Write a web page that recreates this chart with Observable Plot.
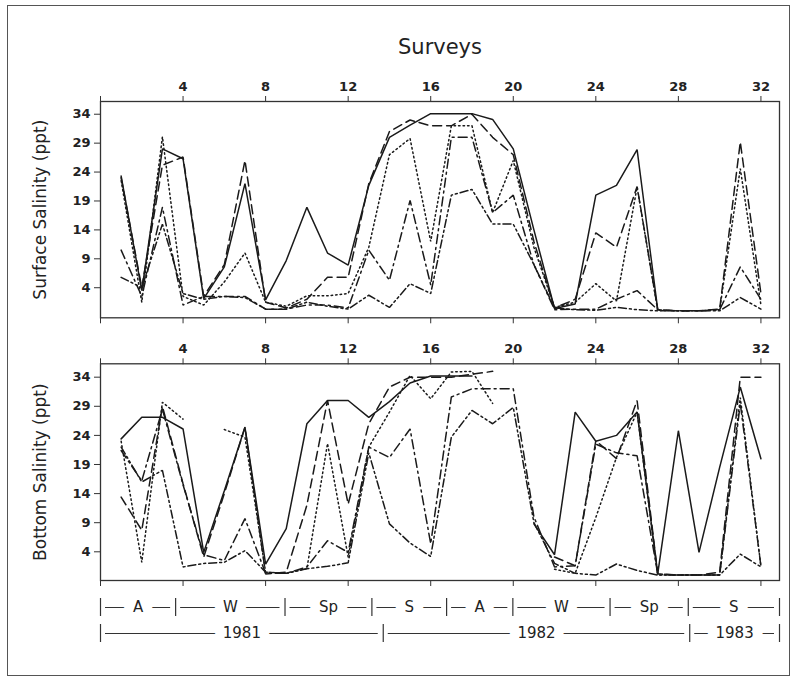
<!DOCTYPE html>
<html><head><meta charset="utf-8">
<script src="https://cdn.jsdelivr.net/npm/d3@7"></script>
<script src="https://cdn.jsdelivr.net/npm/@observablehq/plot@0.6"></script>
<style>
html,body{margin:0;padding:0;background:#fff;}
body{width:799px;height:680px;position:relative;overflow:hidden;font-family:"DejaVu Sans",sans-serif;color:#222;}
#border{position:absolute;left:7px;top:5px;width:783px;height:671px;border:1.5px solid #555;box-sizing:border-box;}
#title{position:absolute;left:0;width:880px;top:34px;text-align:center;font-size:21px;line-height:26px;color:#222;}
.panel{position:absolute;left:0;}
.panel svg{overflow:visible;}
g[aria-label="x-axis tick label"] text, g[aria-label="y-axis tick label"] text{font-weight:bold;}
g[aria-label="y-axis label"] text{font-size:17px;font-weight:normal;}
</style>
</head><body>
<div id="border"></div>
<div id="title">Surveys</div>
<div id="top" class="panel" style="top:60px"></div>
<div id="bottom" class="panel" style="top:340px"></div>
<div id="row1" class="panel" style="top:594px"></div>
<div id="row2" class="panel" style="top:620px"></div>
<script>
// ---- data ----
const surveys = [1,2,3,4,5,6,7,8,9,10,11,12,13,14,15,16,17,18,19,20,21,22,23,24,25,26,27,28,29,30,31,32];
const xTicks = [0,4,8,12,16,20,24,28,32];
const yTicks = [4,9,14,19,24,29,34];

const topSolid      = [23.3,3.5,28,26.3,2.1,7.6,22,1.9,8.7,17.9,10,7.9,21.7,30,32.1,34.1,34.1,34.1,33.1,28,14,0.4,1.2,20,21.7,27.9,0.2,null,null,null,null,null];
const topDash       = [23,4,25.2,26.6,2.5,8,26,1.5,0.5,2,5.8,5.8,22,31,33,32,32,34,30,27,12,0.5,2,13.5,11,21.5,0.2,0,0,0.3,29.2,3];
const topDot        = [22.5,1.5,30.1,2.5,1,5,10,1.5,0.8,2.6,2.6,3,11,27,29.8,12,32,32,17,26,11,0.6,1.5,4.7,1.7,21.4,0.1,0,0,0.2,24.6,1];
const topDashDot    = [10.5,2.5,17.9,1,2.5,2.5,2.5,0.3,0.3,1,1,0.5,10.5,5.3,19.1,4.5,30,30,17,20,8,0.2,0.3,0.3,2,3.5,0.2,0,0,0.2,7.6,2];
const topDashDotDot = [5.8,4,15,3,2,2.5,2.3,0.3,0.3,1.5,0.8,0.3,2.7,0.6,4.7,3,20,21,15,15,8,0.5,0.2,0.1,0.6,0.2,0,0,0,0,2.3,0.3];

const botSolid      = [23.4,27.1,27.1,25.1,3.9,14.5,25.4,1.9,8,26,30,30,27.1,29.8,33,34.2,34.2,34.2,null,null,8.8,3.5,28,23,24,28,0.2,24.8,3.9,18.5,32.3,20];
const botDash       = [13.4,7.7,29,15.7,3.1,14,25.4,0.2,0.5,12,30,12.2,26,32.3,34,34,34,34.5,35,null,null,3.1,1.6,23.1,20,30,0.2,0,0,0.5,34,34];
const botDot        = [23,2.2,29.7,26.8,null,25,23.7,0.5,0.3,1.1,22.6,3.1,22,28,34.3,30.3,34.9,35,29.5,null,null,1,0.3,9.9,20.2,28,0,0,0,0,30.5,1.5];
const botDashDot    = [21.4,16.2,28.5,15.5,3.5,2.5,9.7,0.3,0.3,1.4,5.9,3.9,22,20.2,25.1,5.4,30.6,32,32,32,10,1.4,1.6,22.5,21,20.5,0.2,0,0,0,29.5,1.5];
const botDashDotDot = [22,16,18,1.4,2,2.2,4.2,0.5,0.3,1.1,1.5,2.1,21,8.8,5.5,3.2,23.7,28.3,26,28.8,9,2,0.3,0,1.9,0.8,0,0,0,0,3.6,1.4];

const seasonLabels = ["A","W","Sp","S","A","W","Sp","S"];
const seasonBounds = [0,3.64,8.94,13.15,16.77,19.98,24.69,28.48,32.9];
const yearLabels = ["1981","1982","1983"];
const yearBounds = [0,13.7,28.55,32.9];

// ---- styles ----
const dashes = [null, "9,5", "1.5,3", "9,4,2,4", "8,3,2,3,2,3"];
const xDomain = [0, 32.9];
const W = 799, ML = 100, MR = 20;
const font = {fontFamily: "DejaVu Sans, sans-serif", fontSize: "13px", color: "#222", background: "transparent"};

function panel(series, {height, marginTop, marginBottom, yDomain, label}) {
  const lineMarks = series.map((vals, i) =>
    Plot.line(surveys.map((s, j) => ({s, v: vals[j]})), {
      x: "s", y: "v", stroke: "#1a1a1a", strokeWidth: 1.5,
      strokeDasharray: dashes[i], strokeLinejoin: "miter"
    }));
  return Plot.plot({
    width: W, height, marginLeft: ML, marginRight: MR, marginTop, marginBottom,
    style: font,
    x: {domain: xDomain},
    y: {domain: yDomain},
    marks: [
      Plot.axisX({anchor: "top", ticks: xTicks, tickFormat: d => d === 0 ? "" : String(d), tickSize: 6, tickPadding: 5, label: null, stroke: "#333"}),
      Plot.axisX({anchor: "bottom", ticks: xTicks, tickFormat: () => "", tickSize: 6, label: null, stroke: "#333"}),
      Plot.axisY({anchor: "left", ticks: yTicks, tickSize: 6, tickPadding: 4, label, labelAnchor: "center", labelArrow: "none", labelOffset: 67, stroke: "#333", fontSize: 13}),
      ...lineMarks,
      Plot.frame({stroke: "#333", strokeWidth: 1.3})
    ]
  });
}

const topSvg = panel([topSolid, topDash, topDot, topDashDot, topDashDotDot],
  {height: 280, marginTop: 41, marginBottom: 22.7, yDomain: [-1.2, 36.2], label: "Surface Salinity (ppt)"});
document.getElementById("top").append(topSvg);

const botSvg = panel([botSolid, botDash, botDot, botDashDot, botDashDotDot],
  {height: 250, marginTop: 23.3, marginBottom: 10, yDomain: [-0.93, 36.3], label: "Bottom Salinity (ppt)"});
document.getElementById("bottom").append(botSvg);

function row(labels, bounds, fontSize) {
  const segs = labels.map((l, i) => ({label: l, a: bounds[i], b: bounds[i + 1]}));
  return Plot.plot({
    width: W, height: 26, marginLeft: ML, marginRight: MR, marginTop: 4, marginBottom: 4,
    style: {fontFamily: "DejaVu Sans, sans-serif", background: "transparent", overflow: "visible"},
    x: {domain: xDomain, axis: null},
    y: {domain: [0, 1], axis: null},
    marks: [
      Plot.ruleY(segs, {x1: "a", x2: "b", y: () => 0.5, stroke: "#333", strokeWidth: 1.2, insetLeft: 5, insetRight: 5}),
      Plot.text(segs, {x: d => (d.a + d.b) / 2, y: () => 0.5, text: "label", fill: "#222", stroke: "white", strokeWidth: 20, fontSize}),
      Plot.tickX(bounds, {x: d => d, stroke: "#333", strokeWidth: 1.2})
    ]
  });
}
document.getElementById("row1").append(row(seasonLabels, seasonBounds, 15));
document.getElementById("row2").append(row(yearLabels, yearBounds, 15));
</script>
</body></html>
